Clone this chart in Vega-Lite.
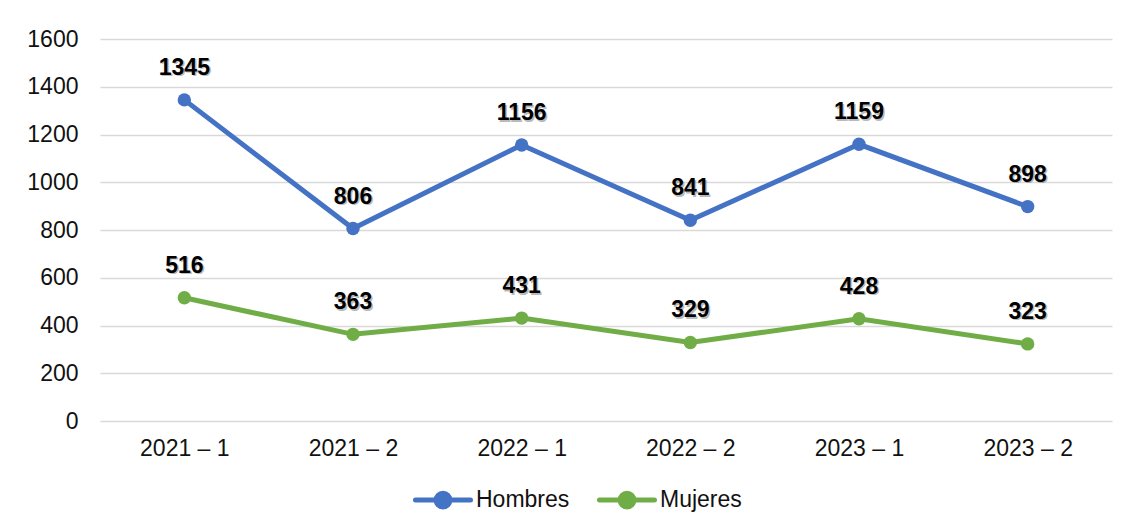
{
  "$schema": "https://vega.github.io/schema/vega-lite/v6.json",
  "width": 1012,
  "height": 382,
  "autosize": {"type": "none"},
  "padding": {"left": 100, "top": 39, "right": 19, "bottom": 110},
  "background": "white",
  "config": {
    "font": "Liberation Sans",
    "view": {"stroke": null}
  },
  "data": {
    "values": [
      {"periodo": "2021 – 1", "serie": "Hombres", "valor": 1345},
      {"periodo": "2021 – 2", "serie": "Hombres", "valor": 806},
      {"periodo": "2022 – 1", "serie": "Hombres", "valor": 1156},
      {"periodo": "2022 – 2", "serie": "Hombres", "valor": 841},
      {"periodo": "2023 – 1", "serie": "Hombres", "valor": 1159},
      {"periodo": "2023 – 2", "serie": "Hombres", "valor": 898},
      {"periodo": "2021 – 1", "serie": "Mujeres", "valor": 516},
      {"periodo": "2021 – 2", "serie": "Mujeres", "valor": 363},
      {"periodo": "2022 – 1", "serie": "Mujeres", "valor": 431},
      {"periodo": "2022 – 2", "serie": "Mujeres", "valor": 329},
      {"periodo": "2023 – 1", "serie": "Mujeres", "valor": 428},
      {"periodo": "2023 – 2", "serie": "Mujeres", "valor": 323}
    ]
  },
  "encoding": {
    "x": {
      "field": "periodo",
      "type": "ordinal",
      "sort": null,
      "scale": {"type": "point", "padding": 0.5},
      "axis": {
        "title": null,
        "labelAngle": 0,
        "labelFontSize": 23,
        "labelColor": "#111111",
        "labelPadding": 16,
        "ticks": false,
        "domain": false,
        "grid": false
      }
    },
    "y": {
      "field": "valor",
      "type": "quantitative",
      "scale": {"domain": [0, 1600], "nice": false},
      "axis": {
        "title": null,
        "values": [0, 200, 400, 600, 800, 1000, 1200, 1400, 1600],
        "format": "d",
        "labelFontSize": 23,
        "labelColor": "#111111",
        "labelPadding": 22,
        "ticks": false,
        "domain": false,
        "grid": true,
        "gridColor": "#d9d9d9",
        "gridWidth": 1.5
      }
    },
    "color": {
      "field": "serie",
      "type": "nominal",
      "scale": {"domain": ["Hombres", "Mujeres"], "range": ["#4472C4", "#70AD47"]},
      "legend": {
        "title": null,
        "orient": "none",
        "direction": "horizontal",
        "legendX": 313,
        "legendY": 431,
        "labelFontSize": 23,
        "labelColor": "#111111",
        "labelOffset": 3,
        "columnPadding": 19,
        "symbolType": "M-1,0L1,0M-0.25,0A0.25,0.25 0 1,1 0.25,0A0.25,0.25 0 1,1 -0.25,0Z",
        "symbolSize": 3025,
        "symbolStrokeWidth": 5,
        "encode": {
          "symbols": {
            "update": {
              "fill": {"scale": "color", "field": "value"},
              "strokeCap": {"value": "round"}
            }
          }
        }
      }
    }
  },
  "layer": [
    {
      "mark": {"type": "line", "strokeWidth": 5}
    },
    {
      "mark": {"type": "point", "filled": true, "size": 180, "opacity": 1},
      "encoding": {"shape": {"value": "circle"}}
    },
    {
      "mark": {"type": "text", "dy": -30.5, "dx": 1.5, "fontSize": 23, "fontWeight": "bold", "opacity": 0.5},
      "encoding": {
        "text": {"field": "valor", "type": "quantitative"},
        "color": {"value": "#777777"}
      }
    },
    {
      "mark": {"type": "text", "dy": -32, "fontSize": 23, "fontWeight": "bold"},
      "encoding": {
        "text": {"field": "valor", "type": "quantitative"},
        "color": {"value": "#000000"}
      }
    }
  ]
}
